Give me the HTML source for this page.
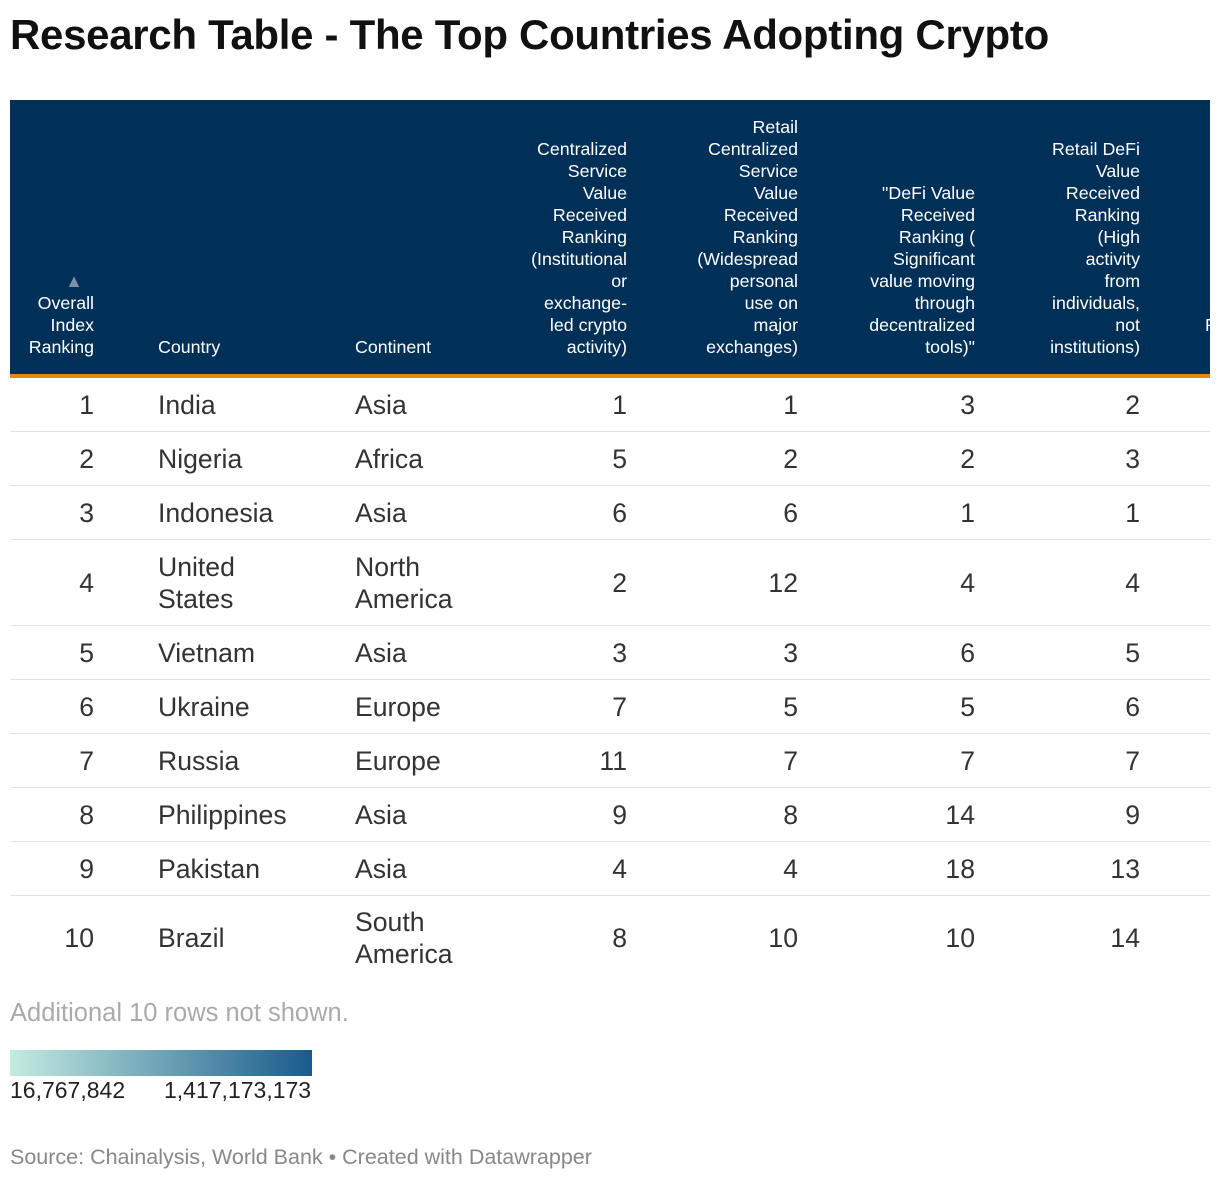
<!DOCTYPE html>
<html><head><meta charset="utf-8"><style>
body{margin:0;width:1220px;height:1182px;background:#fff;font-family:"Liberation Sans",sans-serif;position:relative;overflow:hidden}
.a{position:absolute}
.h{position:absolute;top:100px;height:258px;display:flex;flex-direction:column;justify-content:flex-end;color:#fff;font-size:17.8px;line-height:22px}
.r{text-align:right}
.row{position:absolute;left:10px;width:1200px;border-bottom:1px solid #e3e3e3}
.c{position:absolute;top:0;height:100%;display:flex;align-items:center;font-size:26.6px;line-height:32px;color:#333}
.c.r{justify-content:flex-end}
</style></head><body>
<div class="a" style="left:10px;top:11px;font-size:42px;font-weight:bold;color:#111;letter-spacing:-0.3px">Research Table - The Top Countries Adopting Crypto</div>
<div class="a" style="left:10px;top:100px;width:1200px;height:274px;background:#003057"></div>
<div class="a" style="left:10px;top:374px;width:1200px;height:4px;background:#e8850c"></div>
<div class="h r" style="left:10px;width:84px"><div style="color:#7d93ab;text-align:center;padding-left:44px;font-size:18px">▲</div>Overall<br>Index<br>Ranking</div>
<div class="h" style="left:158px;width:150px">Country</div>
<div class="h" style="left:355px;width:150px">Continent</div>
<div class="h r" style="left:480px;width:147px">Centralized<br>Service<br>Value<br>Received<br>Ranking<br>(Institutional<br>or<br>exchange-<br>led crypto<br>activity)</div>
<div class="h r" style="left:650px;width:148px">Retail<br>Centralized<br>Service<br>Value<br>Received<br>Ranking<br>(Widespread<br>personal<br>use on<br>major<br>exchanges)</div>
<div class="h r" style="left:820px;width:155px">"DeFi Value<br>Received<br>Ranking (<br>Significant<br>value moving<br>through<br>decentralized<br>tools)"</div>
<div class="h r" style="left:990px;width:150px">Retail DeFi<br>Value<br>Received<br>Ranking<br>(High<br>activity<br>from<br>individuals,<br>not<br>institutions)</div>
<div class="a" style="left:1205px;top:314px;width:5px;overflow:hidden;color:#fff;font-size:17.8px;line-height:22px">R</div>
<div id="body"></div>
<div class="a" style="left:10px;top:999px;font-size:25.5px;color:#aaa">Additional 10 rows not shown.</div>
<div class="a" style="left:10px;top:1050px;width:302px;height:26px;background:linear-gradient(to right,#c3ebe0,#1a5b8c)"></div>
<div class="a" style="left:10px;top:1077px;font-size:23px;color:#222">16,767,842</div>
<div class="a" style="left:164px;top:1077px;font-size:23px;color:#222">1,417,173,173</div>
<div class="a" style="left:10px;top:1145px;font-size:21.5px;color:#888">Source: Chainalysis, World Bank • Created with Datawrapper</div>
<script>
const ranks=[1,2,3,4,5,6,7,8,9,10];
const countries=["India","Nigeria","Indonesia","United<br>States","Vietnam","Ukraine","Russia","Philippines","Pakistan","Brazil"];
const continents=["Asia","Africa","Asia","North<br>America","Asia","Europe","Europe","Asia","Asia","South<br>America"];
const centralized=[1,5,6,2,3,7,11,9,4,8];
const retailCentralized=[1,2,6,12,3,5,7,8,4,10];
const defi=[3,2,1,4,6,5,7,14,18,10];
const retailDefi=[2,3,1,4,5,6,7,9,13,14];
const body=document.getElementById('body');
let y=378;
for(let i=0;i<ranks.length;i++){
  const two=countries[i].includes('<br>')||continents[i].includes('<br>');
  const h=two?(i===9?84:86):54;
  const row=document.createElement('div');
  row.className='row';
  
  
  row.style.top=y+'px';row.style.height=(h-1)+'px';
  if(i===9)row.style.borderBottom='none';
  const cells=[[ranks[i],0,84,1],[countries[i],148,180,0],[continents[i],345,150,0],[centralized[i],490,127,1],[retailCentralized[i],660,128,1],[defi[i],830,135,1],[retailDefi[i],1000,130,1]];
  for(const [v,l,w,r] of cells){
    const c=document.createElement('div');
    c.className='c'+(r?' r':'');
    
    
    c.style.left=l+'px';c.style.width=w+'px';
    c.innerHTML='<span>'+v+'</span>';
    row.appendChild(c);
  }
  body.appendChild(row);
  y+=h;
}
</script>
</body></html>
